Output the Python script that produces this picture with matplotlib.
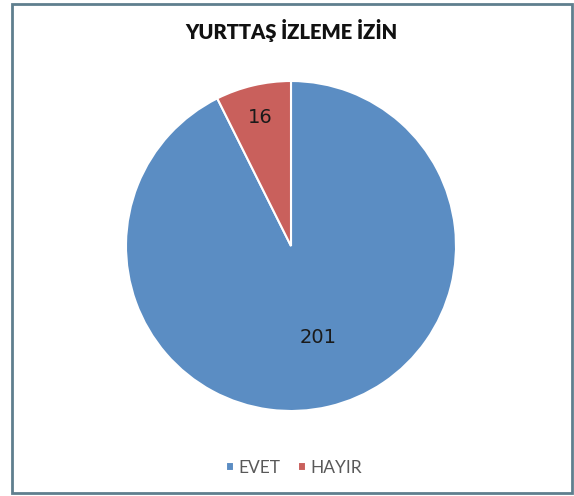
import numpy as np
import matplotlib
matplotlib.use('Agg')
import matplotlib.pyplot as plt
from matplotlib.patches import Rectangle


categories = ['EVET', 'HAYIR']
values = [201, 16]
colors = ['#5B8DC3', '#C9605C']
title = 'YURTTAŞ İZLEME İZİN'


fig = plt.figure(figsize=(5.74, 4.96), dpi=100)
fig.patch.set_facecolor('white')

# outer frame like the excel chart area
fig.patches.append(Rectangle((11.5 / 574, 3.5 / 496), 560.5 / 574, 488.5 / 496,
                             transform=fig.transFigure, fill=False,
                             edgecolor='#5F7F8E', linewidth=2))

ax = fig.add_axes([126 / 574, 85 / 496, 330 / 574, 330 / 496])
wedges, texts = ax.pie(values, colors=colors, startangle=90, counterclock=False,
                       radius=1, wedgeprops=dict(edgecolor='white', linewidth=1.5))
ax.set_xlim(-1, 1)
ax.set_ylim(-1, 1)
ax.set_aspect('equal')

# data labels, excel puts them at different depths
dists = [0.58, 0.8]
for w, v, d in zip(wedges, values, dists):
    ang = np.deg2rad((w.theta1 + w.theta2) / 2 + (3 if v == 201 else 0))
    ax.text(d * np.cos(ang), d * np.sin(ang), str(v), ha='center', va='center',
            fontsize=14, color='#1a1a1a', family='DejaVu Sans')

fig.text(291 / 574, 1 - 30 / 496, title, ha='center', va='center',
         fontsize=14.5, fontweight='heavy', family='Lato', color='#111111')

leg = fig.legend(wedges, categories, loc='center', bbox_to_anchor=(294 / 574, 1 - 468 / 496),
                 ncol=2, frameon=False, handlelength=0.45, handleheight=0.45,
                 handletextpad=0.25, columnspacing=1.0,
                 prop={'family': 'Lato', 'size': 12.5})
for t in leg.get_texts():
    t.set_color('#595959')

fig.savefig('out.png', dpi=100)
